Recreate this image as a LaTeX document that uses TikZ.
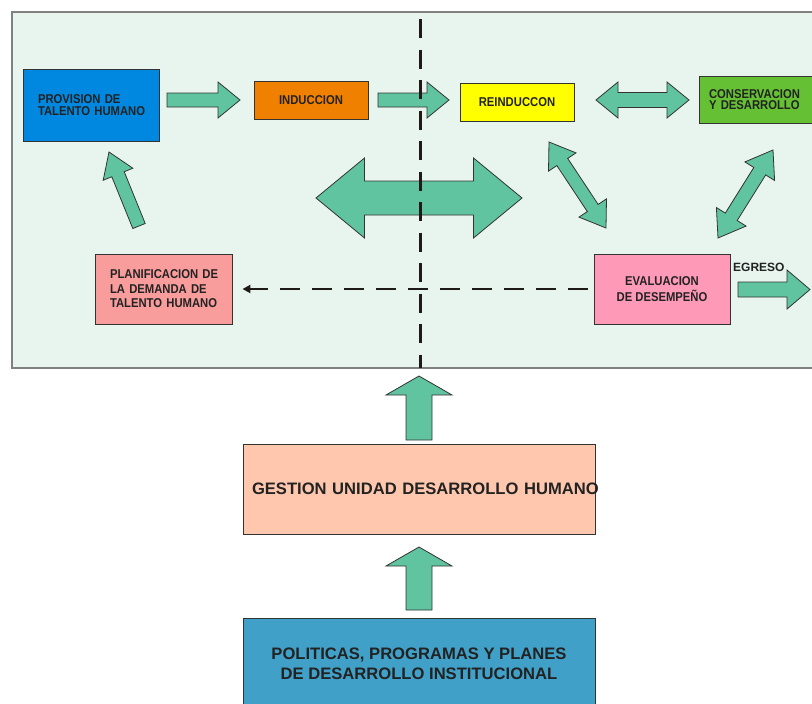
\documentclass[tikz,border=0pt]{standalone}
\usepackage{fontspec}
\setmainfont{Liberation Sans}
\newfontfamily\nfont[FakeStretch=0.88]{Liberation Sans}
\usetikzlibrary{calc,arrows.meta}
\definecolor{bgmint}{HTML}{E8F5EE}
\definecolor{frame}{HTML}{808080}
\definecolor{agreen}{HTML}{60C4A0}
\definecolor{aline}{HTML}{333333}
\definecolor{tdark}{HTML}{222222}
\definecolor{cprov}{HTML}{0088E0}
\definecolor{cind}{HTML}{F08000}
\definecolor{creind}{HTML}{FFFF00}
\definecolor{ccons}{HTML}{66C033}
\definecolor{cplan}{HTML}{F89C9C}
\definecolor{ceval}{HTML}{FF99B8}
\definecolor{cgest}{HTML}{FFC8AE}
\definecolor{cpol}{HTML}{40A0C8}
\definecolor{dline}{HTML}{1E1A16}
\tikzset{
  barrow/.style={fill=agreen, draw=aline, line width=0.8pt, line join=miter},
  boxnode/.style={draw=aline, line width=0.9pt, inner sep=0pt, text=tdark, anchor=center},
  smallfont/.style={font=\nfont\bfseries\fontsize{12.8}{11.6}\selectfont},
  bigfont/.style={font=\bfseries\fontsize{16.6}{20}\selectfont},
}
\newcommand\blkarrow[5]{%
  \path ($(#2)!#5!(#1)$) coordinate (hb);
  \filldraw[barrow] ($(#1)!#3!90:(#2)$) -- ($(hb)!#3!90:(#2)$) -- ($(hb)!#4!90:(#2)$) -- (#2)
    -- ($(hb)!#4!-90:(#2)$) -- ($(hb)!#3!-90:(#2)$) -- ($(#1)!#3!-90:(#2)$) -- cycle;}
\newcommand\dblarrow[5]{%
  \path ($(#1)!#5!(#2)$) coordinate (ha) ($(#2)!#5!(#1)$) coordinate (hc);
  \filldraw[barrow] (#1) -- ($(ha)!#4!90:(#2)$) -- ($(ha)!#3!90:(#2)$) -- ($(hc)!#3!90:(#2)$)
    -- ($(hc)!#4!90:(#2)$) -- (#2) -- ($(hc)!#4!-90:(#2)$) -- ($(hc)!#3!-90:(#2)$)
    -- ($(ha)!#3!-90:(#2)$) -- ($(ha)!#4!-90:(#2)$) -- cycle;}
\begin{document}
\begin{tikzpicture}[x=1pt,y=-1pt]
\useasboundingbox (0,0) rectangle (812,704);
% background panel
\filldraw[fill=bgmint, draw=frame, line width=1.2pt] (12,12) rectangle (830,368);

% boxes
\node[boxnode, fill=cprov, minimum width=136pt, minimum height=72pt, smallfont, text width=106pt, align=left, inner xsep=15pt] (prov) at (91,105) {\mbox{PROVISION DE}\\\mbox{TALENTO HUMANO}};
\node[boxnode, fill=cind, minimum width=114pt, minimum height=38pt, smallfont] (ind) at (311,100) {INDUCCION};
\node[boxnode, fill=creind, minimum width=114pt, minimum height=38pt, smallfont] (reind) at (517,102) {REINDUCCON};
\node[boxnode, fill=ccons, minimum width=126pt, minimum height=47pt, smallfont, text width=106pt, align=left, inner xsep=10pt] (cons) at (762,99.5) {\mbox{CONSERVACION}\\\mbox{Y DESARROLLO}};
\node[boxnode, fill=cplan, minimum width=137pt, minimum height=70pt, text width=107pt, align=left, inner xsep=15pt, font=\nfont\bfseries\fontsize{12.8}{14.5}\selectfont] (plan) at (163.5,289) {\mbox{PLANIFICACION DE}\\\mbox{LA DEMANDA DE}\\\mbox{TALENTO HUMANO}};
\node[boxnode, fill=ceval, minimum width=136pt, minimum height=70pt, align=center, font=\nfont\bfseries\fontsize{12.8}{16}\selectfont] (eval) at (662,289) {EVALUACION\\DE DESEMPEÑO};
\node[boxnode, fill=cgest, minimum width=352pt, minimum height=90pt, text width=352pt, inner xsep=0pt, align=left, bigfont] (gest) at (419,489) {\hspace*{9pt}\rlap{GESTION UNIDAD DESARROLLO HUMANO}};
\node[boxnode, fill=cpol, minimum width=352pt, minimum height=92pt, align=center, bigfont] (pol) at (419,664) {POLITICAS, PROGRAMAS Y PLANES\\DE DESARROLLO INSTITUCIONAL};
\node[text=tdark, font=\bfseries\fontsize{12}{12}\selectfont, anchor=base west, inner sep=0pt] (egr) at (733,271) {EGRESO};

% arrow end points
\coordinate (a1t) at (167,100);   \coordinate (a1h) at (240,100);
\coordinate (a2t) at (378,100);   \coordinate (a2h) at (449,100);
\coordinate (a3a) at (596,100);   \coordinate (a3b) at (689,100);
\coordinate (a4a) at (316,198);   \coordinate (a4b) at (522,198);
\coordinate (a5t) at (139,226);   \coordinate (a5h) at (109,152);
\coordinate (a6a) at (549,142);   \coordinate (a6b) at (606,228);
\coordinate (a7a) at (773,150);   \coordinate (a7b) at (718,238);
\coordinate (a8t) at (738,289.5); \coordinate (a8h) at (810,289.5);
\coordinate (a9t) at (419,440);   \coordinate (a9h) at (419,376);
\coordinate (a10t) at (419,610);  \coordinate (a10h) at (419,547);

\blkarrow{a1t}{a1h}{7pt}{18pt}{22pt}
\blkarrow{a2t}{a2h}{7pt}{18pt}{22pt}
\dblarrow{a3a}{a3b}{7.5pt}{18pt}{22pt}
\dblarrow{a4a}{a4b}{17pt}{40pt}{48.5pt}
\blkarrow{a5t}{a5h}{6.7pt}{16pt}{24pt}
\dblarrow{a6a}{a6b}{6.5pt}{16.5pt}{24pt}
\dblarrow{a7a}{a7b}{7pt}{17.5pt}{25pt}
\blkarrow{a8t}{a8h}{7.5pt}{19.5pt}{23pt}
\blkarrow{a9t}{a9h}{13pt}{33pt}{19pt}
\blkarrow{a10t}{a10h}{13pt}{33pt}{19pt}

% dashed lines
\draw[dline, line width=2pt, dash pattern=on 20pt off 12pt, -{Triangle[length=8pt,width=8pt]}] ([xshift=-6pt]eval.west) -- ([xshift=10pt]plan.east);
\coordinate (vtop) at (420,19); \coordinate (vbot) at (420,368);
\draw[dline, line width=3pt, dash pattern=on 19pt off 11.5pt] (vtop) -- (vbot);
\end{tikzpicture}
\end{document}
